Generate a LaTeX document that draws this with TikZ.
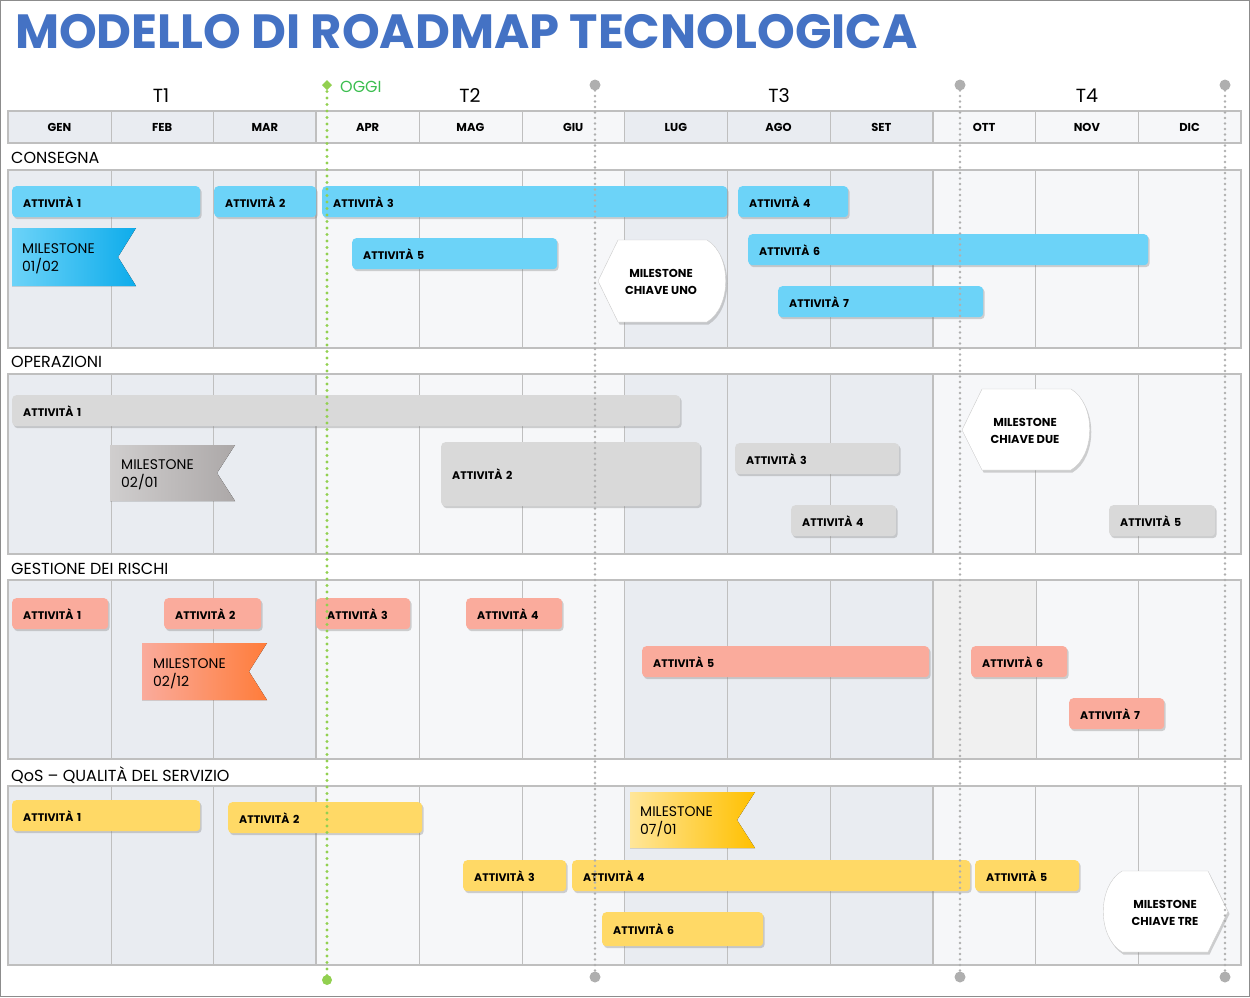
\documentclass[tikz,border=0pt]{standalone}
\usepackage{fontspec}
\setmainfont{Poppins}
\usetikzlibrary{shadows}

\definecolor{titolo}{RGB}{68,114,196}
\definecolor{griglia}{RGB}{191,191,191}
\definecolor{scuro}{RGB}{233,236,241}
\definecolor{chiaro}{RGB}{246,247,249}
\definecolor{blu}{RGB}{108,211,248}
\definecolor{grigio}{RGB}{217,217,217}
\definecolor{salmone}{RGB}{250,171,156}
\definecolor{giallo}{RGB}{255,217,102}
\definecolor{verde}{RGB}{146,208,80}
\definecolor{oggitesto}{RGB}{60,190,80}
\definecolor{puntini}{RGB}{175,175,175}

\tikzset{
  att/.style={anchor=north west, rounded corners=4pt, minimum height=31pt,
    inner xsep=11pt, align=left, font=\bfseries\fontsize{11}{13}\selectfont,
    drop shadow={shadow xshift=1.5pt, shadow yshift=-2pt, opacity=.35}},
  mese/.style={font=\bfseries\fontsize{11.5}{13}\selectfont},
  trim/.style={font=\fontsize{19}{22}\selectfont},
  sezione/.style={anchor=west, inner sep=0pt, font=\fontsize{16}{18}\selectfont},
  ms/.style={anchor=west, align=left, inner sep=0pt, font=\fontsize{14}{18}\selectfont},
  chiave/.style={fill=white, draw=black!20, drop shadow={shadow xshift=1.5pt, shadow yshift=-2.5pt, opacity=.35}},
  chiavetesto/.style={align=center, font=\bfseries\fontsize{11.5}{17}\selectfont},
  oggipunti/.style={verde, line width=3.2pt, line cap=round, dash pattern=on 0pt off 6.5pt},
  grigiopunti/.style={puntini, line width=2.6pt, line cap=round, dash pattern=on 0pt off 5.5pt}
}

\begin{document}
\begin{tikzpicture}[x=1pt, y=-1pt]
\useasboundingbox (0,0) rectangle (1250,997);
\draw[black!45, line width=1pt] (0.5,0.5) rectangle (1249.5,996.5);

\node[anchor=west, inner sep=0pt, text=titolo, font=\bfseries\fontsize{48}{52}\selectfont] (titolo) at (15,32) {MODELLO DI ROADMAP TECNOLOGICA};

\foreach \ya/\yb in {111/143, 170/348, 374/554, 580/759, 786/965} {
  \fill[scuro] (8,\ya) rectangle (316,\yb);
  \fill[chiaro] (316,\ya) rectangle (624,\yb);
  \fill[scuro] (624,\ya) rectangle (933,\yb);
  \fill[chiaro] (933,\ya) rectangle (1241,\yb);
  \foreach \i in {1,2,4,5,7,8,10,11}
    \draw[griglia] ({8+102.75*\i},\ya) -- ({8+102.75*\i},\yb);
  \foreach \i in {3,6,9}
    \draw[griglia, line width=1.6pt] ({8+102.75*\i},\ya) -- ({8+102.75*\i},\yb);
  \draw[griglia, line width=1.2pt] (8,\ya) rectangle (1241,\yb);
}
\fill[black!6] (933.8,580.6) rectangle (1035.5,758.4);
\draw[griglia] (1035.75,580) -- (1035.75,759);

\foreach \m [count=\i] in {GEN,FEB,MAR,APR,MAG,GIU,LUG,AGO,SET,OTT,NOV,DIC}
  \node[mese] (\m) at ({8+102.75*(\i-0.5)},127) {\m};
\node[trim] (t1) at (161,96) {T1};
\node[trim] (t2) at (470,96) {T2};
\node[trim] (t3) at (779,96) {T3};
\node[trim] (t4) at (1087,96) {T4};

\node[sezione] (consegna) at (11,158) {CONSEGNA};
\node[sezione] (operazioni) at (11,362) {OPERAZIONI};
\node[sezione] (rischi) at (11,569) {GESTIONE DEI RISCHI};
\node[sezione] (qos) at (11,775) {QoS -- QUALITÀ DEL SERVIZIO};

\node[att, fill=blu, text width=166pt] (c1) at (12,186) {ATTIVITÀ 1};
\node[att, fill=blu, text width=80pt] (c2) at (214,186) {ATTIVITÀ 2};
\node[att, fill=blu, text width=383pt] (c3) at (322,186) {ATTIVITÀ 3};
\node[att, fill=blu, text width=88pt] (c4) at (738,186) {ATTIVITÀ 4};
\node[att, fill=blu, text width=183pt] (c5) at (352,238) {ATTIVITÀ 5};
\node[att, fill=blu, text width=378pt] (c6) at (748,234) {ATTIVITÀ 6};
\node[att, fill=blu, text width=183pt] (c7) at (778,286) {ATTIVITÀ 7};
\fill[left color=blu, right color={rgb,255:red,14;green,172;blue,235}] (12,228) -- (136,228) -- (118,257) -- (136,286) -- (12,286) -- cycle;
\node[ms] (mc) at (22,259) {MILESTONE\\01/02};
\path[chiave] (598,281) -- (618,240) -- (707,240) .. controls (732,255) and (732,307) .. (707,322) -- (618,322) -- cycle;
\node[chiavetesto] (uno) at (661,282) {MILESTONE\\CHIAVE UNO};

\node[att, fill=grigio, text width=646pt] (o1) at (12,395) {ATTIVITÀ 1};
\node[att, fill=grigio, text width=237pt, minimum height=64pt] (o2) at (441,442) {ATTIVITÀ 2};
\node[att, fill=grigio, text width=142pt] (o3) at (735,443) {ATTIVITÀ 3};
\node[att, fill=grigio, text width=83pt] (o4) at (791,505) {ATTIVITÀ 4};
\node[att, fill=grigio, text width=84pt] (o5) at (1109,505) {ATTIVITÀ 5};
\fill[left color={rgb,255:red,208;green,206;blue,206}, right color={rgb,255:red,172;green,168;blue,168}] (110,445) -- (235,445) -- (217,473) -- (235,501) -- (110,501) -- cycle;
\node[ms] (mo) at (121,475) {MILESTONE\\02/01};
\path[chiave] (962,430) -- (982,389) -- (1071,389) .. controls (1096,404) and (1096,455) .. (1071,470) -- (982,470) -- cycle;
\node[chiavetesto] (due) at (1025,431) {MILESTONE\\CHIAVE DUE};

\node[att, fill=salmone, text width=74pt] (r1) at (12,598) {ATTIVITÀ 1};
\node[att, fill=salmone, text width=75pt] (r2) at (164,598) {ATTIVITÀ 2};
\node[att, fill=salmone, text width=72pt] (r3) at (316,598) {ATTIVITÀ 3};
\node[att, fill=salmone, text width=74pt] (r4) at (466,598) {ATTIVITÀ 4};
\node[att, fill=salmone, text width=265pt] (r5) at (642,646) {ATTIVITÀ 5};
\node[att, fill=salmone, text width=74pt] (r6) at (971,646) {ATTIVITÀ 6};
\node[att, fill=salmone, text width=73pt] (r7) at (1069,698) {ATTIVITÀ 7};
\fill[left color=salmone, right color={rgb,255:red,255;green,124;blue,58}] (142,643) -- (267,643) -- (249,671.5) -- (267,700) -- (142,700) -- cycle;
\node[ms] (mr) at (153,673.5) {MILESTONE\\02/12};

\node[att, fill=giallo, text width=166pt] (q1) at (12,800) {ATTIVITÀ 1};
\node[att, fill=giallo, text width=172pt] (q2) at (228,802) {ATTIVITÀ 2};
\node[att, fill=giallo, text width=81pt] (q3) at (463,860) {ATTIVITÀ 3};
\node[att, fill=giallo, text width=376pt] (q4) at (572,860) {ATTIVITÀ 4};
\node[att, fill=giallo, text width=82pt] (q5) at (975,860) {ATTIVITÀ 5};
\node[att, fill=giallo, text width=139pt, minimum height=34pt] (q6) at (602,912) {ATTIVITÀ 6};
\fill[left color={rgb,255:red,255;green,230;blue,153}, right color={rgb,255:red,255;green,192;blue,0}] (630,792) -- (755,792) -- (737,820) -- (755,848) -- (630,848) -- cycle;
\node[ms] (mq) at (640,822) {MILESTONE\\07/01};
\path[chiave] (1228,911.5) -- (1208,871) -- (1122,871) .. controls (1097,886) and (1097,937) .. (1122,952) -- (1208,952) -- cycle;
\node[chiavetesto] (tre) at (1165,912.5) {MILESTONE\\CHIAVE TRE};

\coordinate (oggi) at (327,85);
\coordinate (oggi fine) at (327,980);
\draw[oggipunti] (oggi) -- (oggi fine);
\fill[verde] (oggi) +(-5,0) -- +(0,-5) -- +(5,0) -- +(0,5) -- cycle;
\fill[verde] (oggi fine) circle (5pt);
\node[anchor=west, inner sep=0pt, text=oggitesto, font=\fontsize{16}{18}\selectfont] (loggi) at (340,87) {OGGI};

\foreach \x/\n in {595/a, 960/b, 1225/c} {
  \coordinate (p\n) at (\x,85);
  \coordinate (q\n) at (\x,977);
  \draw[grigiopunti] (p\n) -- (q\n);
  \fill[puntini] (p\n) circle (5.5pt);
  \fill[puntini] (q\n) circle (5.5pt);
}
\end{tikzpicture}
\end{document}
